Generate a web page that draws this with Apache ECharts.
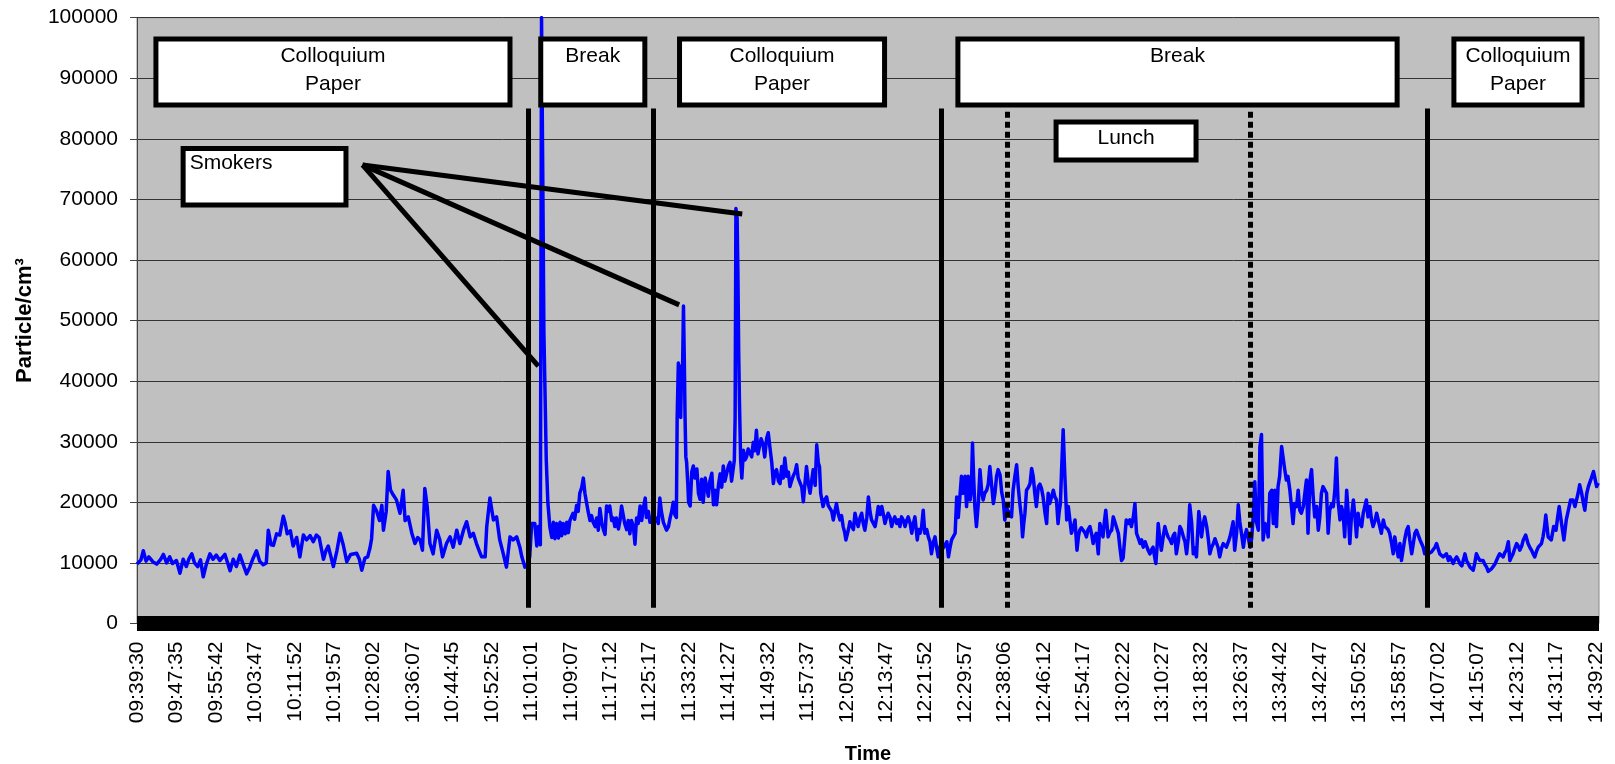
<!DOCTYPE html>
<html>
<head>
<meta charset="utf-8">
<title>Particle concentration over the colloquium day</title>
<script src="https://cdn.jsdelivr.net/npm/echarts@6/dist/echarts.min.js"></script>
<style>
  html, body { margin: 0; padding: 0; background: #ffffff; }
  #chart { width: 1615px; height: 764px; }
</style>
</head>
<body>
<div id="chart"></div>
<script>
// Clock labels shown under the time axis, one every 10 sample positions
const tickLabels = [
  '09:39:30','09:47:35','09:55:42','10:03:47','10:11:52','10:19:57','10:28:02','10:36:07',
  '10:44:45','10:52:52','11:01:01','11:09:07','11:17:12','11:25:17','11:33:22','11:41:27',
  '11:49:32','11:57:37','12:05:42','12:13:47','12:21:52','12:29:57','12:38:06','12:46:12',
  '12:54:17','13:02:22','13:10:27','13:18:32','13:26:37','13:34:42','13:42:47','13:50:52',
  '13:58:57','14:07:02','14:15:07','14:23:12','14:31:17','14:39:22'
];

// Particle counts [sample position, particles/cm³], split by programme block
const session1 = [
  [0,9800],[1,10500],[1.6,12000],[2.3,10300],[3,11000],[4,10200],[5,9800],[6,10600],[6.7,11400],
  [7.5,10000],[8.3,11000],[9,9900],[10,10400],[10.9,8300],[11.7,10600],[12.5,9400],[13.2,10700],
  [13.9,11500],[14.6,10000],[15.4,9400],[16.1,10500],[16.8,7700],[17.6,9800],[18.5,11500],[19.3,10600],
  [20.1,11300],[21,10400],[22.3,11400],[23,10000],[23.6,8700],[24.4,10600],[25.2,9400],[26.1,11300],
  [26.9,9800],[27.8,8200],[28.6,9300],[29.4,10700],[30.3,12000],[31.1,10300],[32,9700],[32.8,10000],
  [33.3,15400],[34,13000],[34.6,12900],[35.4,14800],[36.2,14600],[37.1,17700],[37.6,16500],[38.1,14800],
  [38.9,15300],[39.6,12800],[40.5,14200],[41.3,11000],[42.2,14600],[43,13800],[43.9,14500],[44.7,13500],
  [45.5,14600],[46.2,14200],[47.3,10600],[47.9,12000],[48.5,12800],[49.2,11000],[49.8,9400],[50.7,12000],
  [51.5,14900],[52.3,13000],[53.2,10200],[54.2,11400],[55.7,11600],[56.4,10600],[57,8800],[57.8,10800],
  [58.5,11000],[59.1,12500],[59.5,14000],[60,19500],[60.8,18500],[61.5,17000],[62.1,19500],[62.5,15400],
  [63.2,18500],[63.7,25100],[64.3,22000],[65,21200],[65.8,20400],[66.7,18200],[67.5,22000],[68,17000],
  [68.8,17600],[69.7,14900],[70.5,13200],[71.2,14200],[71.8,13800],[72.4,12100],[73,22300],[73.6,19300],
  [74.3,13200],[75.1,11500],[76,15400],[76.8,13800],[77.5,11000],[78.5,13200],[79.4,14300],[80.2,12600],
  [81.1,15400],[81.9,13200],[82.8,15400],[83.6,16800],[84.5,14300],[85.3,14900],[86.1,13200],[86.8,12000],
  [87.4,11000],[88.3,11000],[88.7,16000],[89.5,20700],[90.4,17100],[91.2,17600],[92,13800],[92.9,11500],
  [93.7,9300],[94.6,14300],[95.4,13800],[96.3,14300],[97.1,12600],[97.6,11000],[98.4,9300],[99,9500]
];

const break1 = [
  [99.6,11000],[100.1,16500],[100.9,16500],[101.4,12800],[101.8,16000],[102.3,13000],[102.6,100000],
  [102.9,75000],[103.2,48000],[103.4,41000],[103.8,27000],[104.2,20000],[104.7,16000],[105.2,14200],
  [105.6,16700],[106,14000],[106.4,16500],[106.9,14100],[107.3,16700],[107.7,14500],[108.1,16500],
  [108.6,14800],[109,16700],[109.4,15000],[109.8,17000],[110.2,16800],[110.6,18200],[111,17200],
  [111.5,19500],[111.9,18500],[112.3,21500],[112.8,22500],[113.2,24000],[113.6,21500],[114,20000],
  [114.5,18200],[114.9,17000],[115.3,17800],[115.7,16700],[116.2,16000],[116.6,17400],[117,15400],
  [117.4,19000],[117.9,16500],[118.3,15500],[118.7,14700],[119.1,19400],[119.5,18500],[119.9,19400],
  [120.4,17000],[120.8,17400],[121.2,16000],[121.6,17400],[122.1,15600],[122.5,17000],[122.9,19400],
  [123.3,19400],[123.7,16500],[124.2,15500],[124.6,17000],[125,14800],[125.4,17000],[125.9,16000],
  [126.3,13100],[126.7,17400],[127.1,16500],[127.6,19400],[128,17000],[128.4,19000],[128.9,20700],
  [129.2,17500],[129.7,18500],[130.1,16700],[130.6,17000]
];

const session2 = [
  [131,17000],[131.4,16700],[131.8,17400],[132.2,16500],[132.6,20700],[133,18500],[133.5,16700],
  [133.9,17000],[134.3,15400],[134.8,16000],[135.2,17400],[135.6,18500],[136,20000],[136.4,18000],
  [136.8,17500],[137,34000],[137.3,43000],[137.5,37000],[137.7,42500],[137.9,34000],[138.1,42000],
  [138.3,39000],[138.6,52400],[138.8,44000],[139,34000],[139.2,27500],[139.4,26600],[139.7,23000],
  [139.9,20000],[140.3,19400],[140.7,25000],[141.1,26000],[141.5,24000],[142,25500],[142.4,21500],
  [142.8,20500],[143.2,23800],[143.6,20000],[144.1,24000],[144.5,23800],[144.9,21000],[145.3,23500],
  [145.8,24800],[146.2,19600],[146.6,22000],[147,19600],[147.5,23000],[147.9,24700],[148.3,22500],
  [148.7,26000],[149.1,23500],[149.5,23300],[150,26000],[150.4,26600],[150.8,23500],[151.2,23300],
  [151.5,27000],[151.7,34000],[151.9,68500],[152.2,67000],[152.4,58000],[152.6,45000],[152.8,36500],
  [153.1,27000],[153.4,24000],[153.8,28600],[154.2,27000],[154.6,27500],[155,28800],[155.4,28600],
  [155.9,27500],[156.3,29900],[156.7,28500],[157.1,31900],[157.5,28000],[157.9,29300],[158.3,30500],
  [158.8,29500],[159.2,27500],[159.7,30600],[160.1,31500],[160.5,29200],[161,26500],[161.4,23100],
  [161.8,25000],[162.2,25400],[162.7,23500],[163.1,23100],[163.5,25900],[163.9,24000],[164.3,27300],
  [164.8,24300],[165.2,25000],[165.6,22600],[166,23500],[166.4,24300],[166.9,25000],[167.3,26200],
  [167.7,24000],[168.1,24300],[168.6,22500],[169,20100],[169.4,23000],[169.8,25900],[170.3,23000],
  [170.7,21500],[171.1,23500],[171.5,25400],[172,22800],[172.4,29500],[172.8,26500],[173.1,25900],
  [173.4,21500],[174,19300],[174.5,20500],[174.9,20900],[175.3,19500],[175.7,19300],[176.2,18500],
  [176.6,17100],[177,18500],[177.4,19800],[177.9,18000],[178.3,17100],[178.7,17800],[179.1,16000],
  [179.5,15000],[179.8,13800],[180.4,15400],[180.8,16800],[181.2,16500],[181.7,15500],[182.1,18200],
  [182.5,17000],[182.9,16000],[183.4,17500],[183.8,18200],[184.2,16500],[184.6,15400],[185.1,17500],
  [185.5,20900],[185.9,18500],[186.3,17100],[186.8,16500],[187.2,16000],[187.6,17500],[188,19300],
  [188.5,18000],[188.9,19300],[189.3,18000],[189.7,16500],[190.1,17500],[190.5,18200],[191,17500],
  [191.4,16000],[191.8,17000],[192.2,17600],[192.7,16500],[193.1,17100],[193.5,16000],[193.9,17600],
  [194.4,17000],[194.8,16000],[195.2,17000],[195.6,17600],[196.1,16500],[196.5,14900],[196.9,16500],
  [197.3,17600],[197.9,13800],[198.2,15500],[198.6,14900],[199,16000],[199.4,18700],[199.8,14900],
  [200.3,15500],[200.7,14300],[201.1,13500],[201.5,11500],[202,13500],[202.4,14300],[202.8,12500],
  [203.2,11000],[203.6,12500]
];

const lunchBreak = [
  [204.1,13600],[204.5,12500],[205,12600],[205.4,13500],[205.8,11000],[206.2,12500],[206.6,13800],
  [207.1,14000],[207.5,14900],[207.9,20900],[208.3,17500],[208.7,17600],[209.1,24300],[209.5,21500],
  [210,24300],[210.4,19300],[210.8,24300],[211.3,20400],[211.6,22000],[211.9,29800],[212.2,24000],
  [212.5,19300],[212.9,16000],[213.4,20000],[213.8,25400],[214.2,22000],[214.6,20400],[215,21500],
  [215.5,22000],[215.9,23000],[216.3,25900],[216.8,22500],[217.2,19800],[217.6,21500],[218,24300],
  [218.4,25400],[218.9,24500],[219.3,21700],[219.7,20400],[220.1,17100],[220.6,19000],[221,19300],
  [221.4,18000],[221.8,17600],[222.2,22000],[222.7,24500],[223.1,26200],[223.5,22600],[223.9,19800],
  [224.3,17600],[224.6,14300],[224.9,16500],[225.2,18200],[225.6,22000],[226.1,22500],[226.5,23100],
  [226.9,25600],[227.3,24300],[227.7,21500],[228.1,19300],[228.6,22600],[229,23000],[229.4,22300],
  [229.8,20900],[230.3,18200],[230.7,16500],[231.1,21500],[231.5,19800],[232,21000],[232.4,22000],
  [232.8,20900],[233.2,20400],[233.6,16500],[233.9,18500],[234.2,19800],[234.5,25400],[234.9,32000],
  [235.3,24800],[235.8,17100],[236.2,19300],[236.6,17100],[237,14900],[237.5,16000],[237.9,17100],
  [238.4,12100],[238.8,14500],[239.1,15400],[239.5,15800],[239.9,16000],[240.4,15000],[240.8,14300],
  [241.2,15500],[241.7,16000],[242.1,14800],[242.5,13200],[242.9,14300],[243.3,14900],[243.8,11500],
  [244.2,16500],[244.6,15500],[245,14300],[245.3,16500],[245.7,18700],[246.3,14300],[246.7,15000],
  [247.2,15400],[247.6,17600],[248,16800],[248.4,17100],[248.9,14900],[249.3,12500],[249.7,10400],
  [250.1,10800],[250.5,11000],[250.9,17100],[251.4,16500],[251.8,17100],[252.2,16000],[252.7,17600],
  [253.1,19800],[253.5,14900],[254,14000],[254.4,13200],[254.8,13800],[255.2,12600],[255.7,13500],
  [256.1,13200],[256.5,12000],[256.9,11500],[257.3,12200],[257.7,12600],[258.1,11000],[258.4,9900],
  [258.7,12500],[259,16500],[259.4,14000],[259.8,12100],[260.3,14500],[260.7,16000],[261.1,15000],
  [261.5,14300],[262,13800],[262.4,13200],[262.8,14500],[263.2,14900],[263.6,11500],[264.1,13500],
  [264.5,16000],[264.9,15500],[265.4,14300],[265.8,13500],[266.2,11500],[266.6,14000],[267,19600],
  [267.5,16500],[267.9,11500],[268.3,12500],[268.7,11000],[269.3,18500],[269.7,16000],[270,14300],
  [270.4,16500],[270.8,17600],[271.3,16000],[271.7,14000],[272.1,11500],[272.5,12500],[273,13200],
  [273.4,14000],[273.8,14300],[274.2,12500],[274.6,11000],[275.1,12500],[275.5,13200],[275.9,13000],
  [276.3,12600],[276.8,13500],[277.2,14300],[277.6,15500],[278,16800],[278.4,12100],[278.9,15000],
  [279.3,19600],[279.7,16800],[280.2,14500],[280.6,12600],[281,14500],[281.4,15500],[281.9,14000],
  [282.3,12600],[282.7,14000],[283.1,17600],[283.5,23400],[283.9,16800],[284.4,15400],[284.8,29200],
  [285.2,31200],[285.6,13800],[286.1,16500],[286.5,16000],[286.9,14300],[287.3,21500],[287.8,22000],
  [288.2,16500],[288.6,22000],[289,16000],[289.4,22600],[289.8,24300],[290.3,29200],[290.7,29500],
  [291.1,25400],[291.5,23700],[291.9,24300],[292.4,22000],[292.8,19300],[293.2,16500],[293.6,19800],
  [294.1,19300],[294.5,22000],[294.9,18700],[295.3,18200],[295.8,19300],[296.2,21500],[296.6,23700],
  [297,14900],[297.5,23700],[297.9,25400],[298.3,21000],[298.7,17600],[299.2,19300],[299.6,15400],
  [300,17600],[300.4,21500],[300.8,22600],[301.3,22900],[301.7,21500],[302.1,14900],[302.5,18700],
  [303,19800],[303.4,19300],[303.8,22000],[304.2,27300],[304.6,20400],[305.1,17100],[305.5,19300],
  [305.9,18200],[306.3,14300],[306.8,22000],[307.2,18200],[307.6,13200],[308,17600],[308.5,20400],
  [308.9,17600],[309.3,14300],[309.7,18200],[310.1,16500],[310.6,16000],[311,18200],[311.4,19300],
  [311.8,20400],[312.2,17600],[312.7,19300],[313.1,17100],[313.5,16000],[314,17000],[314.4,18200],
  [314.8,17100],[315.2,16000],[315.6,14900],[316.1,17100],[316.5,16000],[316.9,16000],[317.3,15500],
  [317.7,14900],[318.2,13200],[318.6,11500],[319,14300],[319.4,12600],[319.9,11000],[320.3,13200],
  [320.7,10400],[321.1,12100],[321.5,13800],[322,15400],[322.4,16000],[322.8,13800],[323.3,11500],
  [323.7,13200],[324.1,14900],[324.5,15400],[324.9,15400],[325.4,13800],[325.8,13200],[326.2,12600],
  [326.6,11500]
];

const session3 = [
  [327,12000],[327.5,11500],[327.9,11500],[328.3,11800],[328.7,12100],[329.2,12600],[329.6,13200],
  [330,13500],[330.4,11500],[330.9,11300],[331.3,11000],[331.7,11200],[332.1,11500],[332.6,10400],
  [333,11000],[333.4,10500],[333.8,9900],[334.3,10600],[334.7,11000],[335.1,10500],[335.5,9900],
  [336,9500],[336.4,9300],[336.8,11500],[337.2,10400],[337.7,9800],[338.1,9300],[338.5,9000],
  [338.9,8800],[339.3,10000],[339.7,11500],[340.2,10800],[340.6,10400],[341,10600],[341.4,10400],
  [341.9,9700],[342.3,9300],[342.7,8600],[343.1,8800],[343.5,9000],[343.9,9300],[344.4,9800],
  [344.8,10400],[345.2,11000],[345.6,11500],[346.1,11200],[346.5,11000],[346.9,11700],[347.3,12100],
  [347.8,13500],[348.2,10400],[348.6,11000],[349,11500],[349.5,12500],[349.9,13200],[350.3,12800],
  [350.7,12100],[351.2,12800],[351.6,13800],[352.2,14600],[352.8,13200],[353.3,12500],[353.7,12100],
  [354.1,11500],[354.5,11000],[355,12000],[355.4,12600],[355.8,12800],[356.2,13200],[356.6,14300],
  [357,16000],[357.3,17900],[357.9,14300],[358.3,14500],[358.7,13800],[359.3,16000],[359.9,15400],
  [360.3,17500],[360.7,19300],[361.3,16500],[361.9,13800],[362.5,17100],[362.9,17100],[363.6,20400],
  [364.2,20400],[364.7,19300],[365.1,20400],[365.5,21500],[365.9,22900],[366.4,21500],[366.8,20000],
  [367.2,18700],[367.7,21500],[368.1,22600],[368.7,23700],[369.4,25100],[369.8,25400],[370.2,22600],
  [370.6,23200]
];

// Programme labels along the top (sample-position span)
const programme = [
  { text: 'Colloquium\nPaper', from: 4.8,   to: 94.6 },
  { text: 'Break',             from: 102.4, to: 128.8 },
  { text: 'Colloquium\nPaper', from: 137.6, to: 189.6 },
  { text: 'Break',             from: 208.2, to: 319.6 },
  { text: 'Colloquium\nPaper', from: 334,   to: 366.5 }
];
const programmeRange = [85600, 96500];
const lunchBox = { text: 'Lunch', from: 233.1, to: 268.6, range: [76500, 82800] };
const smokersBox = { text: 'Smokers', from: 11.7, to: 53, range: [69100, 78400] };

// Block boundaries (solid) and lunch start/end (dotted)
const blockEdges = [99.3, 131.0, 204.1, 327.2];
const lunchEdges = [220.7, 282.3];
const edgeRange = [2600, 85000];

// Pointer lines from the "Smokers" note to the smoking peaks
const smokersPointer = [57.2, 75700];
const smokingPeaks = [[101.8, 42500], [137.5, 52600], [153.5, 67600]];

const FONT = '"Liberation Sans", Arial, Helvetica, sans-serif';
const samples = [].concat(session1, break1, session2, lunchBreak, session3);

const boxLabel = {
  show: true, position: 'insideTop', distance: 6,
  color: '#000', fontFamily: FONT, fontSize: 21, lineHeight: 28
};

const areaData = programme.map(p => [
  { name: p.text, coord: [p.from, programmeRange[1]], label: boxLabel },
  { coord: [p.to, programmeRange[0]] }
]);
areaData.push([
  { name: lunchBox.text, coord: [lunchBox.from, lunchBox.range[1]],
    label: Object.assign({}, boxLabel, { distance: 5 }) },
  { coord: [lunchBox.to, lunchBox.range[0]] }
]);
areaData.push([
  { name: smokersBox.text, coord: [smokersBox.from, smokersBox.range[1]],
    label: Object.assign({}, boxLabel, { position: 'insideTopLeft', distance: 3, offset: [6, 0] }) },
  { coord: [smokersBox.to, smokersBox.range[0]] }
]);

const lineData = [];
blockEdges.forEach(x => lineData.push([
  { coord: [x, edgeRange[0]], lineStyle: { type: 'solid' } },
  { coord: [x, edgeRange[1]] }
]));
lunchEdges.forEach(x => lineData.push([
  { coord: [x, edgeRange[0]], lineStyle: { type: [6, 4] } },
  { coord: [x, edgeRange[1]] }
]));
smokingPeaks.forEach(p => lineData.push([
  { coord: smokersPointer, lineStyle: { type: 'solid' } },
  { coord: p }
]));

const chart = echarts.init(document.getElementById('chart'), null, { renderer: 'canvas' });

chart.setOption({
  animation: false,
  backgroundColor: '#ffffff',
  textStyle: { fontFamily: FONT },
  grid: {
    left: 137, right: 16, top: 17.7, bottom: 140.5,
    containLabel: false, outerBoundsMode: 'none',
    show: true, backgroundColor: '#c0c0c0', borderColor: '#8a8a8a', borderWidth: 1
  },
  xAxis: {
    type: 'value',
    min: 0, max: 370.8, interval: 10,
    name: 'Time', nameLocation: 'middle', nameGap: 121, nameMoveOverlap: false,
    nameTextStyle: { fontFamily: FONT, fontSize: 20, fontWeight: 'bold', color: '#000' },
    axisLine: { show: true, onZero: false, lineStyle: { color: '#000', width: 15, cap: 'butt' } },
    axisTick: { show: false },
    splitLine: { show: false },
    axisLabel: {
      rotate: 90, margin: 18, color: '#000', fontFamily: FONT, fontSize: 21,
      showMinLabel: true, showMaxLabel: true, hideOverlap: false,
      formatter: v => {
        const k = Math.round(v / 10);
        return Math.abs(v / 10 - k) < 1e-6 && tickLabels[k] ? tickLabels[k] : '';
      }
    }
  },
  yAxis: {
    type: 'value',
    min: 0, max: 100000, interval: 10000,
    name: 'Particle/cm³', nameLocation: 'middle', nameRotate: 90, nameGap: 101, nameMoveOverlap: false,
    nameTextStyle: { fontFamily: FONT, fontSize: 22, fontWeight: 'bold', color: '#000' },
    axisLine: { show: true, lineStyle: { color: '#444', width: 1 } },
    axisTick: { show: true, length: 7, lineStyle: { color: '#444', width: 1 } },
    splitLine: { show: true, lineStyle: { color: '#333', width: 1 } },
    axisLabel: {
      margin: 19, color: '#000', fontFamily: FONT, fontSize: 21,
      formatter: v => String(v)
    }
  },
  series: [{
    type: 'line',
    name: 'Particle/cm³',
    data: samples,
    showSymbol: false,
    symbol: 'none',
    clip: true,
    z: 2,
    lineStyle: { color: '#0000ff', width: 3.5, join: 'round' },
    markLine: {
      silent: true, z: 5, animation: false,
      symbol: 'none', label: { show: false },
      lineStyle: { color: '#000', width: 5, cap: 'butt' },
      data: lineData
    },
    markArea: {
      silent: true, z: 10, animation: false,
      itemStyle: { color: '#ffffff', borderColor: '#000', borderWidth: 5 },
      data: areaData
    }
  }]
});
</script>
</body>
</html>
